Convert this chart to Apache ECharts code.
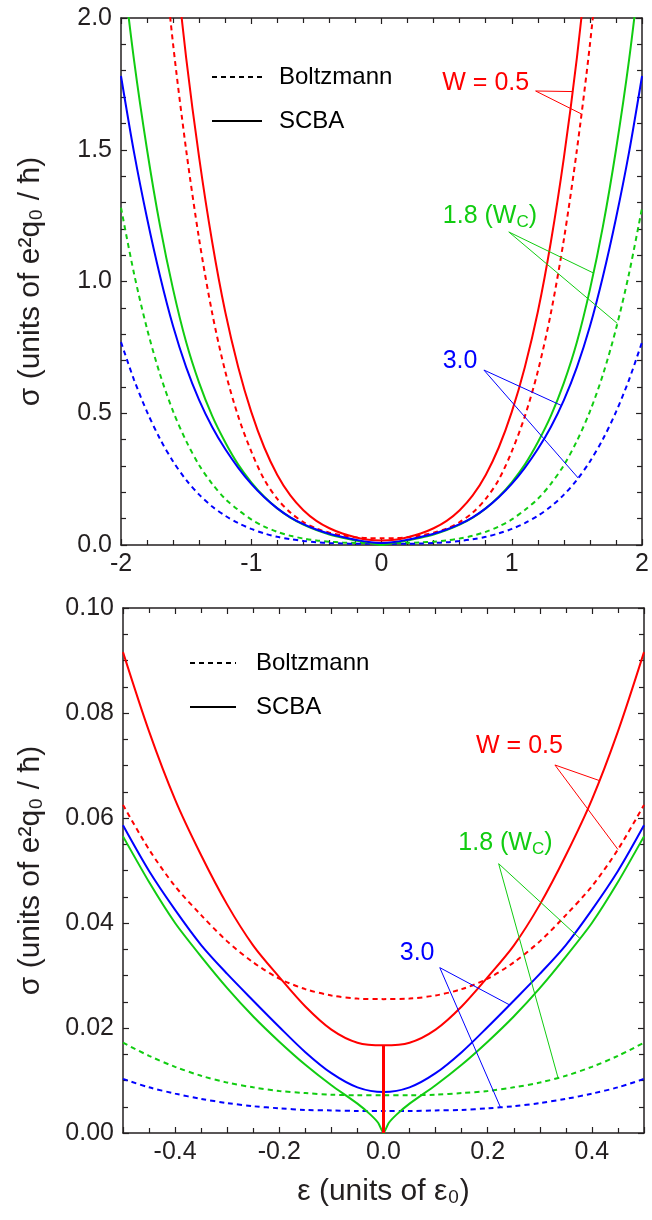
<!DOCTYPE html>
<html><head><meta charset="utf-8">
<script src="https://cdn.jsdelivr.net/npm/echarts@6/dist/echarts.min.js"></script>
<style>html,body{margin:0;padding:0;background:#fff}#c{width:652px;height:1220px}</style>
</head><body><div id="c"></div>
<script>
// ---------- data ----------
const topEps = [-2.0,-1.9,-1.8,-1.7,-1.6,-1.5,-1.4,-1.3,-1.2,-1.1,-1.0,-0.9,-0.8,-0.7,-0.6,-0.5,-0.4,-0.3,-0.2,-0.1,0.0,
                0.1,0.2,0.3,0.4,0.5,0.6,0.7,0.8,0.9,1.0,1.1,1.2,1.3,1.4,1.5,1.6,1.7,1.8,1.9,2.0];
const topScbaW05 = [null,null,null,null,2.30,1.85,1.47,1.15,0.885,0.675,0.505,0.370,0.266,0.188,0.132,0.0916,0.0635,0.0435,0.0297,0.0197,0.0167,
                    0.0197,0.0297,0.0435,0.0635,0.0916,0.132,0.188,0.266,0.370,0.505,0.675,0.885,1.15,1.47,1.85,2.30,null,null,null,null];
const topBoltzW05 = [null,null,null,2.38,1.90,1.50,1.16,0.88,0.659,0.488,0.355,0.248,0.175,0.123,0.087,0.0625,0.047,0.0365,0.0294,0.0262,0.0255,
                     0.0262,0.0294,0.0365,0.047,0.0625,0.087,0.123,0.175,0.248,0.355,0.488,0.659,0.88,1.16,1.50,1.90,2.38,null,null,null];
const topScbaW18 = [2.25,1.84,1.50,1.21,0.97,0.77,0.615,0.49,0.39,0.305,0.238,0.183,0.139,0.104,0.0775,0.0565,0.040,0.0276,0.0174,0.0091,0.0,
                    0.0091,0.0174,0.0276,0.040,0.0565,0.0775,0.104,0.139,0.183,0.238,0.305,0.39,0.49,0.615,0.77,0.97,1.21,1.50,1.84,2.25];
const topBoltzW18 = [1.28,1.03,0.82,0.647,0.507,0.395,0.303,0.232,0.175,0.133,0.097,0.070,0.050,0.035,0.0245,0.0172,0.0126,0.0096,0.008,0.0073,0.0072,
                     0.0073,0.008,0.0096,0.0126,0.0172,0.0245,0.035,0.050,0.070,0.097,0.133,0.175,0.232,0.303,0.395,0.507,0.647,0.82,1.03,1.28];
const topScbaW30 = [1.78,1.49,1.24,1.02,0.83,0.675,0.55,0.448,0.364,0.293,0.232,0.181,0.139,0.105,0.079,0.0586,0.0425,0.0303,0.0202,0.0114,0.0078,
                    0.0114,0.0202,0.0303,0.0425,0.0586,0.079,0.105,0.139,0.181,0.232,0.293,0.364,0.448,0.55,0.675,0.83,1.02,1.24,1.49,1.78];
const topBoltzW30 = [0.77,0.627,0.505,0.402,0.317,0.247,0.191,0.146,0.111,0.083,0.061,0.044,0.031,0.022,0.0155,0.0103,0.0075,0.0057,0.0047,0.0043,0.0042,
                     0.0043,0.0047,0.0057,0.0075,0.0103,0.0155,0.022,0.031,0.044,0.061,0.083,0.111,0.146,0.191,0.247,0.317,0.402,0.505,0.627,0.77];

const botEps = [-0.5,-0.45,-0.4,-0.35,-0.3,-0.25,-0.2,-0.15,-0.1,-0.05,0.0,0.05,0.1,0.15,0.2,0.25,0.3,0.35,0.4,0.45,0.5];
const botBoltzW05 = [0.0625,0.054,0.047,0.0415,0.0365,0.0325,0.0294,0.0274,0.0262,0.0256,0.0255,0.0256,0.0262,0.0274,0.0294,0.0325,0.0365,0.0415,0.047,0.054,0.0625];
const botBoltzW18 = [0.0172,0.0147,0.0126,0.0109,0.0096,0.0087,0.008,0.0076,0.0073,0.0072,0.0072,0.0072,0.0073,0.0076,0.008,0.0087,0.0096,0.0109,0.0126,0.0147,0.0172];
const botBoltzW30 = [0.0103,0.0087,0.0075,0.0065,0.0057,0.0051,0.0047,0.0044,0.0043,0.0042,0.0042,0.0042,0.0043,0.0044,0.0047,0.0051,0.0057,0.0065,0.0075,0.0087,0.0103];
const botScbaW30 = [0.0586,0.0499,0.0425,0.0358,0.0303,0.0252,0.0202,0.0154,0.0114,0.0087,0.0078,0.0087,0.0114,0.0154,0.0202,0.0252,0.0303,0.0358,0.0425,0.0499,0.0586];
const botScbaW05 = [0.0916,0.0765,0.0635,0.0529,0.0435,0.0357,0.0297,0.0241,0.0197,0.0172,0.0167,0.0172,0.0197,0.0241,0.0297,0.0357,0.0435,0.0529,0.0635,0.0765,0.0916];
const botSpikeEps = [0.0, 0.0];
const botSpikeW05 = [0.0167, 0.0];
const botEpsW18 = [-0.5,-0.45,-0.4,-0.35,-0.3,-0.25,-0.2,-0.15,-0.1,-0.05,-0.025,-0.01,0.0,0.01,0.025,0.05,0.1,0.15,0.2,0.25,0.3,0.35,0.4,0.45,0.5];
const botScbaW18 = [0.0565,0.0478,0.040,0.0336,0.0276,0.0222,0.0174,0.013,0.0091,0.0056,0.0035,0.0019,0.0,0.0019,0.0035,0.0056,0.0091,0.013,0.0174,0.0222,0.0276,0.0336,0.040,0.0478,0.0565];

const legendNames = ['Boltzmann', 'SCBA'];
const yTitle = 'σ (units of e²q₀ / ħ)';
const xTitle = 'ε (units of ε₀)';

// ---------- styling ----------
const RED = '#ff0000', GREEN = '#11cc11', BLUE = '#0000ff', INK = '#231f20';
const FONT = 'Liberation Sans, Arial, sans-serif';
const DASH = [5, 4];
const TICK_FS = 25, NAME_FS = 30, NOTE_FS = 25, LEG_FS = 24;

const chart = echarts.init(document.getElementById('c'), null, {renderer: 'canvas'});

function pairs(xs, ys) { return xs.map((x, i) => [x, ys[i]]); }
function line(name, xs, ys, color, dashed, ax, smooth) {
  return {
    name: name, type: 'line', xAxisIndex: ax, yAxisIndex: ax, data: pairs(xs, ys),
    symbol: 'none', smooth: smooth, clip: true, silent: true, z: dashed ? 2 : 3,
    lineStyle: {color: color, width: 2, type: dashed ? DASH : 'solid'}
  };
}
function tickSet(split) {
  return {
    axisTick: {show: true, inside: true, length: 6, lineStyle: {color: INK, width: 1.2}},
    minorTick: {show: true, splitNumber: split, length: 5, lineStyle: {color: INK, width: 1.2}}
  };
}
function axisCommon(extra, split) {
  return Object.assign({
    type: 'value',
    axisLine: {show: true, onZero: false, lineStyle: {color: INK, width: 1.5}},
    splitLine: {show: false}, minorSplitLine: {show: false}
  }, tickSet(split), extra);
}
const labelStyle = {color: INK, fontFamily: FONT, fontSize: TICK_FS};
const nameStyle = {color: INK, fontFamily: FONT, fontSize: NAME_FS};

const option = {
  animation: false,
  backgroundColor: '#fff',
  grid: [
    {left: 121, top: 18, width: 524, height: 527},
    {left: 123, top: 608, width: 521, height: 525}
  ],
  xAxis: [
    axisCommon({gridIndex: 0, position: 'bottom', min: -2, max: 2, interval: 1,
      axisLabel: Object.assign({margin: 7, formatter: v => String(v)}, labelStyle)}, 5),
    axisCommon({gridIndex: 0, position: 'top', min: -2, max: 2, interval: 1, axisLabel: {show: false}}, 5),
    axisCommon({gridIndex: 1, position: 'bottom', min: -0.5, max: 0.5, interval: 0.1,
      name: xTitle, nameLocation: 'middle', nameGap: 44, nameTextStyle: nameStyle,
      axisLabel: Object.assign({margin: 7, showMinLabel: true, showMaxLabel: true,
        formatter: v => (Math.round(Math.abs(v) * 10) % 2 === 0 ? v.toFixed(1) : '')}, labelStyle)}, 2),
    axisCommon({gridIndex: 1, position: 'top', min: -0.5, max: 0.5, interval: 0.1, axisLabel: {show: false}}, 2)
  ],
  yAxis: [
    axisCommon({gridIndex: 0, position: 'left', min: 0, max: 2, interval: 0.5,
      name: yTitle, nameLocation: 'middle', nameGap: 75, nameRotate: 90, nameTextStyle: nameStyle,
      axisLabel: Object.assign({margin: 9, formatter: v => v.toFixed(1)}, labelStyle)}, 5),
    axisCommon({gridIndex: 0, position: 'right', min: 0, max: 2, interval: 0.5, axisLabel: {show: false}}, 5),
    axisCommon({gridIndex: 1, position: 'left', min: 0, max: 0.1, interval: 0.02,
      name: yTitle, nameLocation: 'middle', nameGap: 77, nameRotate: 90, nameTextStyle: nameStyle,
      axisLabel: Object.assign({margin: 9, formatter: v => v.toFixed(2)}, labelStyle)}, 4),
    axisCommon({gridIndex: 1, position: 'right', min: 0, max: 0.1, interval: 0.02, axisLabel: {show: false}}, 4)
  ],
  series: [
    line('W=0.5 Boltzmann', topEps, topBoltzW05, RED, true, 0, 0.3),
    line('W=1.8 Boltzmann', topEps, topBoltzW18, GREEN, true, 0, 0.3),
    line('W=3.0 Boltzmann', topEps, topBoltzW30, BLUE, true, 0, 0.3),
    line('W=0.5 SCBA', topEps, topScbaW05, RED, false, 0, 0.3),
    line('W=1.8 SCBA', topEps, topScbaW18, GREEN, false, 0, 0.3),
    line('W=3.0 SCBA', topEps, topScbaW30, BLUE, false, 0, 0.3),
    line('b W=0.5 Boltzmann', botEps, botBoltzW05, RED, true, 2, 0.3),
    line('b W=1.8 Boltzmann', botEps, botBoltzW18, GREEN, true, 2, 0.3),
    line('b W=3.0 Boltzmann', botEps, botBoltzW30, BLUE, true, 2, 0.3),
    line('b W=3.0 SCBA', botEps, botScbaW30, BLUE, false, 2, 0.3),
    line('b W=1.8 SCBA', botEpsW18, botScbaW18, GREEN, false, 2, 0.2),
    line('b W=0.5 SCBA', botEps, botScbaW05, RED, false, 2, 0.3),
    Object.assign(line('b W=0.5 SCBA spike', botSpikeEps, botSpikeW05, RED, false, 2, false),
      {lineStyle: {color: RED, width: 3}})
  ]
};
chart.setOption(option);

// ---------- legend (line samples + names) and annotations ----------
function interp(xs, ys, x) {
  for (let i = 0; i < xs.length - 1; i++) {
    if (x >= xs[i] && x <= xs[i + 1] && ys[i] != null && ys[i + 1] != null) {
      const t = (x - xs[i]) / (xs[i + 1] - xs[i]);
      return ys[i] + t * (ys[i + 1] - ys[i]);
    }
  }
  return null;
}
const graphics = [];
const legends = [
  {x: 212, w: 50, tx: 279, y: [77, 121]},
  {x: 190, w: 46, tx: 256, y: [663, 707]}
];
legends.forEach(L => {
  legendNames.forEach((nm, i) => {
    graphics.push({type: 'line', silent: true, z: 10,
      shape: {x1: L.x, y1: L.y[i], x2: L.x + L.w, y2: L.y[i]},
      style: {stroke: '#000', lineWidth: 2, lineDash: i === 0 ? DASH : null}});
    graphics.push({type: 'text', silent: true, z: 10, x: L.tx, y: L.y[i],
      style: {text: nm, fill: '#000', fontFamily: FONT, fontSize: LEG_FS, align: 'left', verticalAlign: 'middle'}});
  });
});

const notes = [
  {grid: 0, color: RED, text: 'W = 0.5', at: [0.80, 1.753], from: [1.183, 1.723],
   to: [[topEps, topScbaW05, 1.466], [topEps, topBoltzW05, 1.534]]},
  {grid: 0, color: GREEN, rich: true, at: [0.832, 1.249], from: [0.977, 1.188],
   to: [[topEps, topScbaW18, 1.626], [topEps, topBoltzW18, 1.81]]},
  {grid: 0, color: BLUE, text: '3.0', at: [0.603, 0.698], from: [0.786, 0.664],
   to: [[topEps, topScbaW30, 1.38], [topEps, topBoltzW30, 1.51]]},
  {grid: 1, color: RED, text: 'W = 0.5', at: [0.261, 0.0737], from: [0.329, 0.0701],
   to: [[botEps, botScbaW05, 0.414], [botEps, botBoltzW05, 0.45]]},
  {grid: 1, color: GREEN, rich: true, at: [0.234, 0.0552], from: [0.221, 0.0513],
   to: [[botEpsW18, botScbaW18, 0.377], [botEps, botBoltzW18, 0.335]]},
  {grid: 1, color: BLUE, text: '3.0', at: [0.0645, 0.0343], from: [0.108, 0.0315],
   to: [[botEps, botScbaW30, 0.242], [botEps, botBoltzW30, 0.2245]]}
];
notes.forEach(n => {
  const f = chart.convertToPixel({gridIndex: n.grid}, n.from);
  const a = chart.convertToPixel({gridIndex: n.grid}, n.at);
  n.to.forEach(t => {
    const y = interp(t[0], t[1], t[2]);
    const p = chart.convertToPixel({gridIndex: n.grid}, [t[2], y]);
    graphics.push({type: 'line', silent: true, z: 10,
      shape: {x1: f[0], y1: f[1], x2: p[0], y2: p[1]}, style: {stroke: n.color, lineWidth: 1}});
  });
  if (n.rich) {
    graphics.push({type: 'text', silent: true, z: 10, x: a[0], y: a[1],
      style: {text: '{m|1.8 (W}{s|C}{m|)}', align: 'center', verticalAlign: 'middle', fill: n.color,
        rich: {m: {fontFamily: FONT, fontSize: NOTE_FS, lineHeight: 29, fill: n.color},
               s: {fontFamily: FONT, fontSize: 17, lineHeight: 17, verticalAlign: 'bottom', fill: n.color}}}});
  } else {
    graphics.push({type: 'text', silent: true, z: 10, x: a[0], y: a[1],
      style: {text: n.text, align: 'center', verticalAlign: 'middle', fill: n.color,
        fontFamily: FONT, fontSize: NOTE_FS}});
  }
});
chart.setOption({graphic: graphics});
</script>
</body></html>
